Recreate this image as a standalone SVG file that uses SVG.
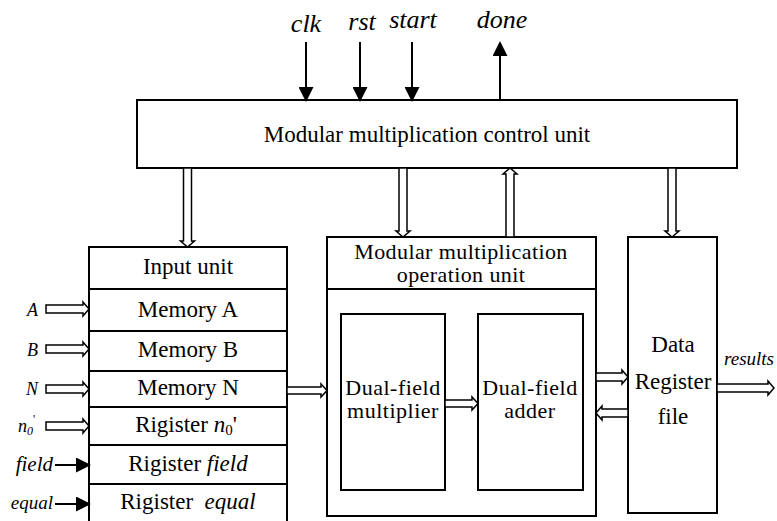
<svg xmlns="http://www.w3.org/2000/svg" width="777" height="521" viewBox="0 0 777 521" font-family="'Liberation Serif', 'Times New Roman', serif">
  <defs>
    <marker id="head" viewBox="0 0 15 15" refX="13" refY="7.5" markerWidth="15" markerHeight="15" markerUnits="userSpaceOnUse" orient="auto">
      <path d="M0,0 L15,7.5 L0,15 z" fill="#000"/>
    </marker>
  </defs>

  <rect width="777" height="521" fill="#fff"/>

  <!-- control unit -->
  <g id="control-unit" fill="#fff" stroke="#000" stroke-width="2">
    <rect x="137" y="100" width="600" height="68"/>
    <text x="427" y="142" style="font-family:'Liberation Serif','Times New Roman',serif;font-size:23px" fill="#000" stroke="none" text-anchor="middle">Modular multiplication control unit</text>
  </g>

  <!-- input unit -->
  <g id="input-unit" fill="#fff" stroke="#000" stroke-width="2">
    <rect x="89" y="247" width="198" height="290"/>
    <path d="M89,289H287M89,331H287M89,371H287M89,407H287M89,445H287M89,484H287" fill="none"/>
    <g fill="#000" stroke="none" text-anchor="middle">
      <text x="188" y="274" style="font-family:'Liberation Serif','Times New Roman',serif;font-size:23px">Input unit</text>
      <text x="188" y="317" style="font-family:'Liberation Serif','Times New Roman',serif;font-size:23px">Memory A</text>
      <text x="188" y="357" style="font-family:'Liberation Serif','Times New Roman',serif;font-size:23px">Memory B</text>
      <text x="188" y="395" style="font-family:'Liberation Serif','Times New Roman',serif;font-size:23px">Memory N</text>
      <text x="186" y="432" style="font-family:'Liberation Serif','Times New Roman',serif;font-size:23px">Rigister <tspan font-style="italic">n</tspan><tspan style="font-size:15px" dy="3">0</tspan><tspan dy="-3">'</tspan></text>
      <text x="188" y="471" style="font-family:'Liberation Serif','Times New Roman',serif;font-size:23px">Rigister <tspan font-style="italic">field</tspan></text>
      <text x="188" y="509" style="font-family:'Liberation Serif','Times New Roman',serif;font-size:23px" xml:space="preserve">Rigister  <tspan font-style="italic">equal</tspan></text>
    </g>
  </g>

  <!-- modular multiplication operation unit -->
  <g id="operation-unit" fill="#fff" stroke="#000" stroke-width="2">
    <rect x="327" y="237" width="269" height="279"/>
    <path d="M327,289H596" fill="none"/>
    <g fill="#000" stroke="none" text-anchor="middle">
      <text x="461" y="259" style="font-family:'Liberation Serif','Times New Roman',serif;font-size:22px;letter-spacing:0.4px">Modular multiplication</text>
      <text x="461" y="282" style="font-family:'Liberation Serif','Times New Roman',serif;font-size:22px;letter-spacing:0.4px">operation unit</text>
    </g>
  </g>

  <g id="multiplier" fill="#fff" stroke="#000" stroke-width="2">
    <rect x="341" y="314" width="104" height="176"/>
    <g fill="#000" stroke="none" text-anchor="middle">
      <text x="393" y="395" style="font-family:'Liberation Serif','Times New Roman',serif;font-size:22px;letter-spacing:0.5px">Dual-field</text>
      <text x="393" y="418" style="font-family:'Liberation Serif','Times New Roman',serif;font-size:22px;letter-spacing:0.5px">multiplier</text>
    </g>
  </g>

  <g id="adder" fill="#fff" stroke="#000" stroke-width="2">
    <rect x="478" y="314" width="105" height="176"/>
    <g fill="#000" stroke="none" text-anchor="middle">
      <text x="530" y="395" style="font-family:'Liberation Serif','Times New Roman',serif;font-size:22px;letter-spacing:0.5px">Dual-field</text>
      <text x="530" y="418" style="font-family:'Liberation Serif','Times New Roman',serif;font-size:22px;letter-spacing:0.5px">adder</text>
    </g>
  </g>

  <!-- data register file -->
  <g id="register-file" fill="#fff" stroke="#000" stroke-width="2">
    <rect x="628" y="237" width="89" height="276"/>
    <g fill="#000" stroke="none" text-anchor="middle">
      <text x="673" y="352" style="font-family:'Liberation Serif','Times New Roman',serif;font-size:23px">Data</text>
      <text x="673" y="389" style="font-family:'Liberation Serif','Times New Roman',serif;font-size:23px">Register</text>
      <text x="673" y="424" style="font-family:'Liberation Serif','Times New Roman',serif;font-size:23px">file</text>
    </g>
  </g>

  <!-- external signal labels -->
  <g id="labels" fill="#000">
    <text x="306" y="32" style="font-family:'Liberation Serif','Times New Roman',serif;font-style:italic;font-size:26px" text-anchor="middle">clk</text>
    <text x="362" y="30" style="font-family:'Liberation Serif','Times New Roman',serif;font-style:italic;font-size:26px" text-anchor="middle">rst</text>
    <text x="413" y="28" style="font-family:'Liberation Serif','Times New Roman',serif;font-style:italic;font-size:26px" text-anchor="middle">start</text>
    <text x="502" y="28" style="font-family:'Liberation Serif','Times New Roman',serif;font-style:italic;font-size:26px" text-anchor="middle">done</text>
    <text x="38" y="316" style="font-family:'Liberation Serif','Times New Roman',serif;font-style:italic;font-size:18px" text-anchor="end">A</text>
    <text x="38" y="356" style="font-family:'Liberation Serif','Times New Roman',serif;font-style:italic;font-size:18px" text-anchor="end">B</text>
    <text x="38" y="395" style="font-family:'Liberation Serif','Times New Roman',serif;font-style:italic;font-size:18px" text-anchor="end">N</text>
    <text x="18" y="432" style="font-family:'Liberation Serif','Times New Roman',serif;font-style:italic;font-size:18px">n<tspan style="font-size:12px" dy="3">0</tspan><tspan style="font-size:12px;font-style:normal" dy="-12">'</tspan></text>
    <text x="53" y="471" style="font-family:'Liberation Serif','Times New Roman',serif;font-style:italic;font-size:21px" text-anchor="end">field</text>
    <text x="53" y="509" style="font-family:'Liberation Serif','Times New Roman',serif;font-style:italic;font-size:19px" text-anchor="end">equal</text>
    <text x="749" y="365" style="font-family:'Liberation Serif','Times New Roman',serif;font-style:italic;font-size:19px" text-anchor="middle">results</text>
  </g>

  <!-- connectors -->
  <g id="connectors">
    <!-- single-line control signals -->
    <g stroke="#000" stroke-width="2" fill="none" marker-end="url(#head)">
      <line x1="306" y1="42" x2="306" y2="100"/>
      <line x1="360" y1="42" x2="360" y2="100"/>
      <line x1="412" y1="42" x2="412" y2="100"/>
      <line x1="500" y1="100" x2="500" y2="43"/>
      <line x1="55" y1="465" x2="89" y2="465"/>
      <line x1="55" y1="504" x2="89" y2="504"/>
    </g>

    <!-- hollow bus arrows -->
    <g fill="#fff" stroke="#000" stroke-width="1.5">
      <!-- control unit to blocks -->
      <polygon points="183.5,168 191.5,168 191.5,241 194.5,241 187.5,247 180.5,241 183.5,241"/>
      <polygon points="399,168 407,168 407,231 410,231 403,237 396,231 399,231"/>
      <polygon points="506,237 514,237 514,174 517,174 510,168 503,174 506,174"/>
      <polygon points="668,168 676,168 676,231 679,231 672,237 665,231 668,231"/>
      <!-- external operands into input unit -->
      <polygon points="46,305 83,305 83,302 89,309 83,316 83,313 46,313"/>
      <polygon points="46,345 83,345 83,342 89,349 83,356 83,353 46,353"/>
      <polygon points="46,385 83,385 83,382 89,389 83,396 83,393 46,393"/>
      <polygon points="46,422 83,422 83,419 89,426 83,433 83,430 46,430"/>
      <!-- datapath -->
      <polygon points="287,387 321,387 321,384 327,390.5 321,397 321,394 287,394"/>
      <polygon points="445,400 472,400 472,397 478,403.5 472,410 472,407 445,407"/>
      <polygon points="596,373 622,373 622,370 628,377 622,384 622,381 596,381"/>
      <polygon points="628,409 602,409 602,406 596,413 602,420 602,417 628,417"/>
      <polygon points="717,384 768,384 768,381 774,388 768,395 768,392 717,392"/>
    </g>
  </g>
</svg>
